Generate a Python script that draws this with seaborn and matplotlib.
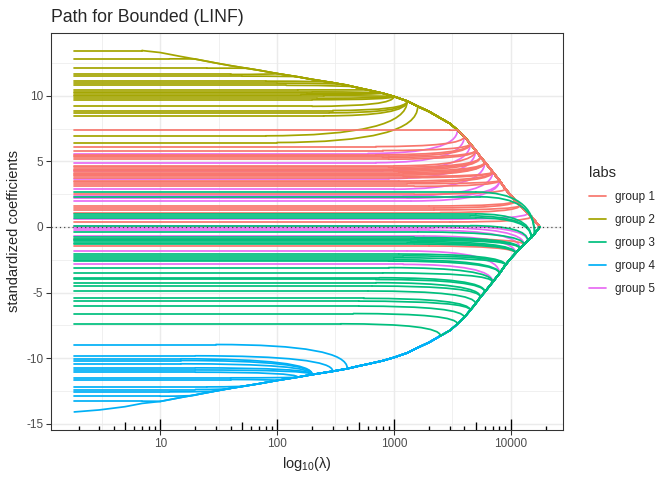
import numpy as np
import pandas as pd
import matplotlib
matplotlib.use("Agg")
import matplotlib.pyplot as plt
from matplotlib.lines import Line2D
from matplotlib.path import Path
from matplotlib.patches import PathPatch
import seaborn as sns

# outer bound of the path (|coef| <= bound)
env_lambda = [1.84, 3, 5, 7, 10, 15, 20, 30, 40, 55, 70, 100, 150, 200, 300, 400,
              500, 600, 800, 1000, 1300, 1600, 2000, 2500, 3000, 3500, 4000, 4500,
              5000, 5500, 6000, 7000, 8000, 9000, 10000, 11000, 12000, 13000,
              14000, 15000, 16000, 17000, 17700]
env_bound = [14.1, 13.95, 13.7, 13.45, 13.3, 13.0, 12.8, 12.5, 12.3, 12.1, 11.95, 11.7,
             11.45, 11.25, 11.0, 10.8, 10.6, 10.45, 10.2, 9.95, 9.6, 9.2, 8.8, 8.3,
             7.9, 7.4, 6.9, 6.35, 5.85, 5.35, 4.95, 4.2, 3.55, 2.9, 2.4, 2.0, 1.65,
             1.35, 1.05, 0.8, 0.5, 0.2, 0.0]

# each coefficient: value at small lambda, lambda where it stops being flat,
# lambda where it reaches the bound, and which side of the bound
g1_start = [7.38, 6.13, 5.83, 5.5, 5.4, 5.3, 5.17, 4.66, 4.55, 4.45, 4.35, 4.25, 4.15,
            4.05, 3.95, 3.85, 3.76, 3.5, 3.4, 3.3, 3.1, 2.5, 1.6, 1.45, 1.3, 1.1,
            0.38, -0.9, -1.45]
g1_flat = [3000, 700, 800, 700, 900, 800, 900, 1000, 900, 1000, 1100, 1000, 1100,
           1200, 1000, 1200, 1300, 1100, 1400, 1300, 1500, 1500, 2000, 2200, 2200, 2500,
           3000, 2500, 2000]
g1_join = [3500, 4000, 4500, 4500, 4500, 5000, 5000, 5000, 5500, 5500, 5500, 6000, 6000,
           6000, 6000, 7000, 7000, 7000, 7000, 8000, 8000, 9000, 11000, 11000, 12000,
           12000, 15000, 13000, 11000]
g1_side = [1] * 27 + [-1, -1]

g2_start = [13.43, 12.82, 12.11, 11.63, 11.5, 11.12, 10.97, 10.8, 10.45, 10.3, 10.2,
            10.1, 10.0, 9.82, 9.7, 9.2, 8.88, 8.7, 8.47, 6.95, 6.44]
g2_flat = [7, 12, 25, 40, 50, 80, 100, 120, 150, 200, 180, 160, 250, 220, 200, 200,
           300, 280, 250, 80, 100]
g2_join = [7, 20, 55, 100, 150, 300, 400, 500, 600, 800, 800, 800, 1000, 1000, 1000,
           1000, 1300, 1300, 1300, 1300, 1600]
g2_side = [1] * 21

g3_start = [2.67, 2.3, 1.0, 0.85, 0.7, 0.1, -0.38, -0.8, -0.9, -1.0, -1.1, -1.2,
            -1.3, -2.06, -2.2, -2.35, -2.5, -2.6, -3.1, -3.5, -3.87, -4.0, -4.25, -4.5,
            -4.88, -5.44, -5.65, -6.03, -6.6, -7.38]
g3_flat = [5000, 5500, 5000, 4500, 5000, 4500, 1600, 1500, 1400, 1600, 1400, 1300,
           1500, 1100, 1200, 1000, 1000, 900, 900, 800, 750, 700, 700, 650, 600, 550,
           500, 500, 450, 350]
g3_join = [16000, 16000, 15000, 15000, 15000, 14000, 13000, 12000, 12000, 12000,
           11000, 11000, 11000, 9000, 9000, 9000, 8000, 8000, 7000, 7000, 6000, 6000,
           5500, 5500, 5000, 4500, 4500, 4000, 3500, 2500]
g3_side = [-1] * 30

g4_start = [-8.96, -9.82, -10.05, -10.18, -10.43, -10.74, -10.9, -11.07, -11.5, -11.63,
            -12.19, -12.39, -12.57, -12.9, -13.28, -14.1]
g4_flat = [30, 20, 15, 15, 15, 20, 20, 20, 40, 40, 25, 20, 12, 10, 7, 1.84]
g4_join = [400, 300, 200, 200, 200, 200, 200, 150, 150, 100, 55, 40, 30, 20, 10, 1.84]
g4_side = [-1] * 16

g5_start = [5.6, 4.9, 4.3, 3.69, 2.88, 2.37, 2.2, 1.98, 0.59, 0.08, -0.05, -0.25, -0.69,
            -1.83, -2.85]
g5_flat = [600, 700, 800, 900, 1000, 1200, 1300, 1400, 2500, 2500, 2200, 2000, 1800,
           1300, 1200]
g5_join = [3500, 4000, 4500, 5000, 6000, 7000, 8000, 8000, 14000, 14000, 13000, 12000,
           11000, 8000, 7000]
g5_side = [1] * 9 + [-1] * 6

groups = {
    "group 1": (g1_start, g1_flat, g1_join, g1_side),
    "group 2": (g2_start, g2_flat, g2_join, g2_side),
    "group 3": (g3_start, g3_flat, g3_join, g3_side),
    "group 4": (g4_start, g4_flat, g4_join, g4_side),
    "group 5": (g5_start, g5_flat, g5_join, g5_side),
}
palette = {"group 1": "#F8766D", "group 2": "#A3A500", "group 3": "#00BF7D",
           "group 4": "#00B0F6", "group 5": "#E76BF3"}
bound_at = dict(zip(env_lambda, env_bound))

# flat part and the run along the bound as separate units, plus the bend between
rows = []
bends = []
unit = 0
for labs, (start, flat, join, side) in groups.items():
    for v0, lf, lj, s in zip(start, flat, join, side):
        rows.append((unit, labs, env_lambda[0], v0))
        rows.append((unit, labs, lf, v0))
        unit += 1
        for lam, b in zip(env_lambda, env_bound):
            if lam >= lj:
                rows.append((unit, labs, lam, s * b))
        unit += 1
        bends.append((labs, [(lf, v0), (lj, v0), (lj, s * bound_at[lj])]))
df = pd.DataFrame(rows, columns=["line", "labs", "lam", "coef"])

sns.set_theme(style="white")
plt.rcParams["font.family"] = ["Liberation Sans", "DejaVu Sans"]
plt.rcParams["axes.unicode_minus"] = False
plt.rcParams["mathtext.default"] = "regular"

fig = plt.figure(figsize=(7, 5), dpi=96)
ax = fig.add_axes([51 / 672, 1 - 430 / 480, (563 - 51) / 672, (430 - 32.5) / 480])
ax.set_xscale("log")

draw_order = ["group 5", "group 2", "group 4", "group 1", "group 3"]
zorders = {g: 2 + i * 0.1 for i, g in enumerate(draw_order)}
for labs in draw_order:
    sns.lineplot(data=df[df["labs"] == labs], x="lam", y="coef", units="line",
                 estimator=None, sort=False, color=palette[labs], lw=1.3,
                 legend=False, ax=ax, zorder=zorders[labs])

for labs, verts in bends:
    p = Path(verts, [Path.MOVETO, Path.CURVE3, Path.CURVE3])
    ax.add_patch(PathPatch(p, fill=False, edgecolor=palette[labs], lw=1.3,
                           capstyle="round", zorder=zorders[labs]))

lx0, lx1 = np.log10(df["lam"].min()), np.log10(df["lam"].max())
pad = 0.05 * (lx1 - lx0)
ax.set_xlim(10 ** (lx0 - pad), 10 ** (lx1 + pad))
y0, y1 = df["coef"].min(), df["coef"].max()
ax.set_ylim(y0 - 0.05 * (y1 - y0), y1 + 0.05 * (y1 - y0))

ax.axhline(0, color="#444444", lw=0.9, ls=(0, (1, 2.5)), zorder=3)

ax.set_xticks([10, 100, 1000, 10000], ["10", "100", "1000", "10000"])
ax.set_xticks([10 ** 0.5, 10 ** 1.5, 10 ** 2.5, 10 ** 3.5], minor=True)
ax.set_yticks([-15, -10, -5, 0, 5, 10])
ax.set_yticks([-12.5, -7.5, -2.5, 2.5, 7.5, 12.5], minor=True)
ax.grid(True, which="major", color="#EBEBEB", lw=1.1, zorder=0)
ax.grid(True, which="minor", color="#EBEBEB", lw=0.55, zorder=0)
ax.set_axisbelow(True)
ax.tick_params(which="major", length=3.6, width=0.8, color="#333333",
               labelcolor="#4D4D4D", labelsize=8.8, pad=2.2, bottom=True, left=True)
ax.tick_params(which="minor", length=0)
for sp in ax.spines.values():
    sp.set_color("#333333")
    sp.set_linewidth(0.8)

# log ticks along the bottom of the panel
panel_px = ax.get_position().height * fig.get_figheight() * fig.dpi
lo, hi = ax.get_xlim()
for dec in [1, 10, 100, 1000, 10000]:
    for m in range(1, 10):
        v = m * dec
        if lo <= v <= hi:
            ln = 11.3 if m == 1 else (7.6 if m == 5 else 3.8)
            ax.vlines(v, 0, ln / panel_px, transform=ax.get_xaxis_transform(),
                      color="black", lw=1.0, zorder=3)

ax.set_title("Path for Bounded (LINF)", loc="left", fontsize=13.2, pad=8)
ax.set_xlabel("log$_{10}$(λ)", fontsize=11, labelpad=4)
ax.set_ylabel("standardized coefficients", fontsize=11, labelpad=4)

handles = [Line2D([], [], color=palette[g], lw=1.3) for g in groups]
leg = fig.legend(handles, list(groups), title="labs", loc="upper left",
                 bbox_to_anchor=(578 / 672, 1 - 155 / 480), frameon=False,
                 fontsize=8.8, title_fontsize=11, handlelength=1.5,
                 handletextpad=0.75, labelspacing=0.95, alignment="left")

fig.savefig("out.png", dpi=96)
